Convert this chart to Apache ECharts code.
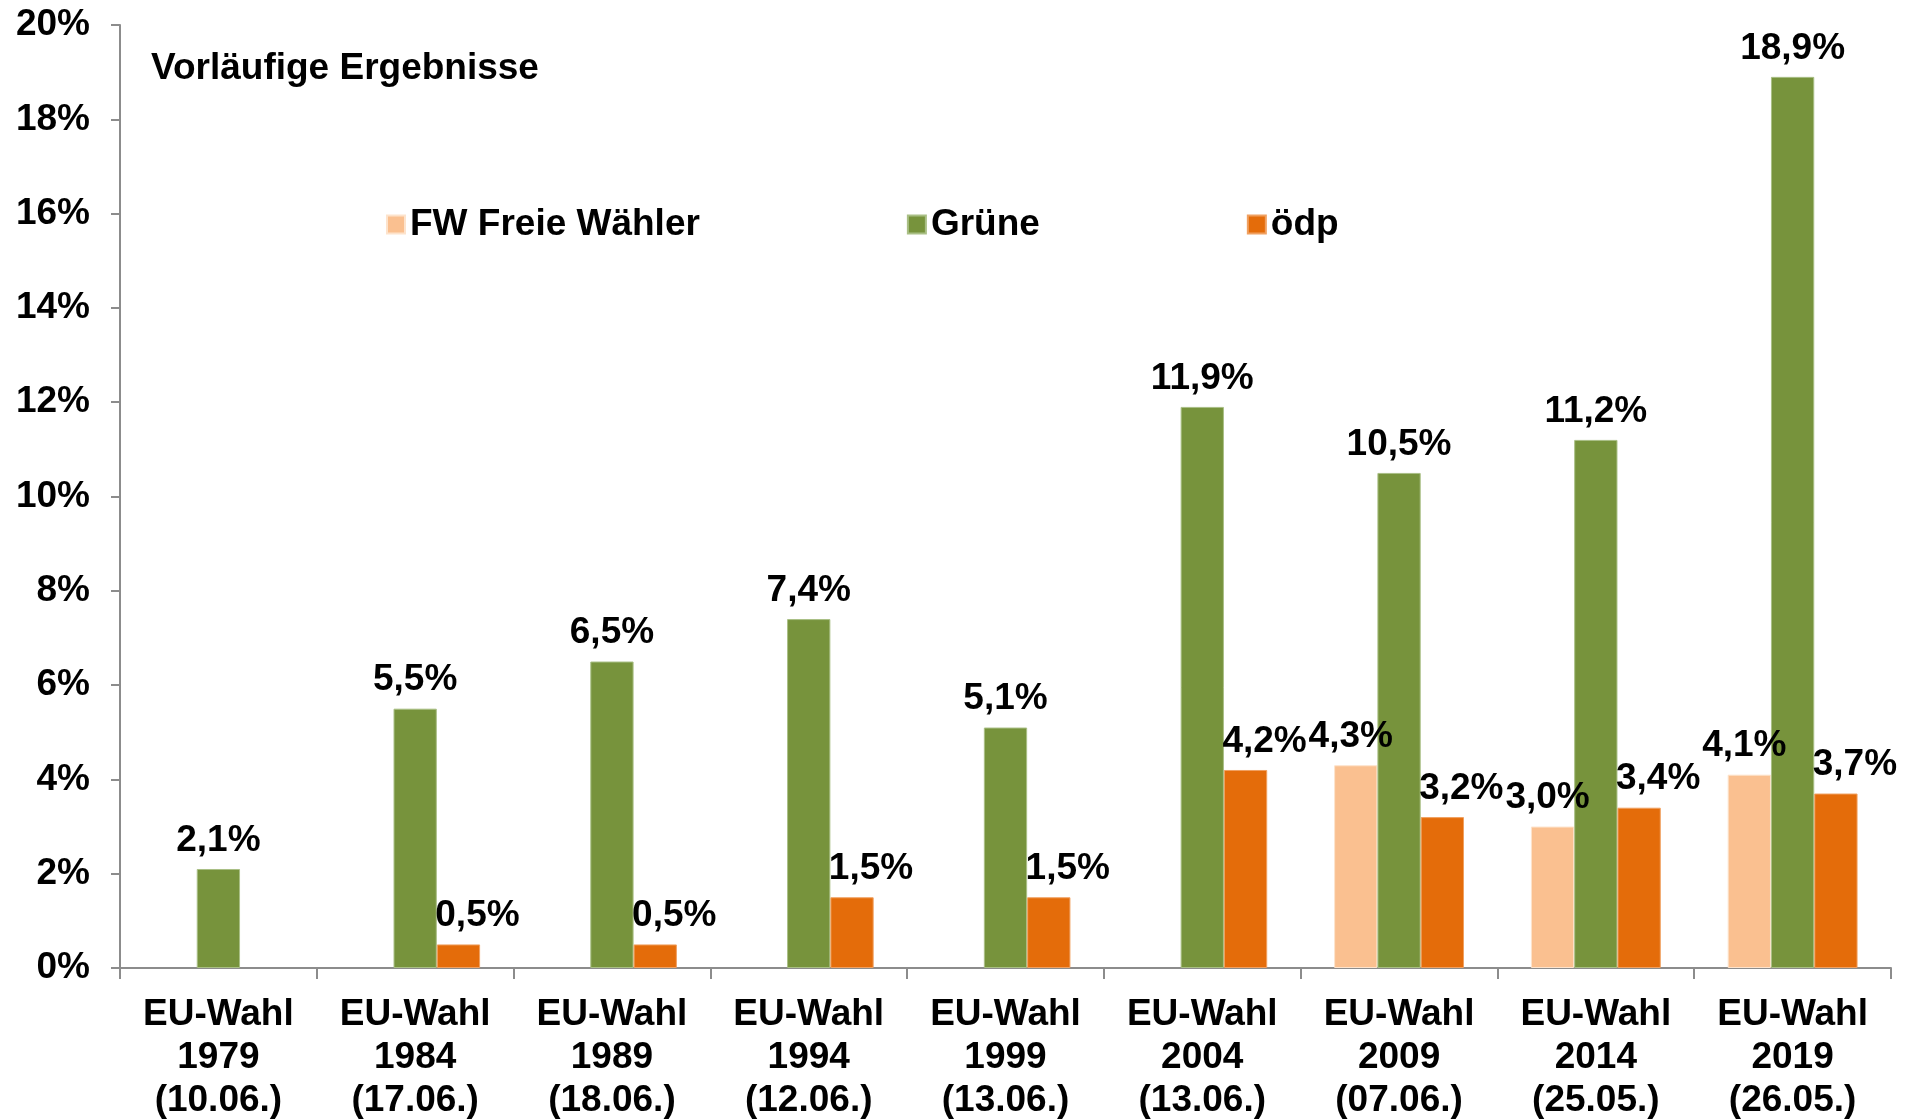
<!DOCTYPE html>
<html>
<head>
<meta charset="utf-8">
<script src="https://cdn.jsdelivr.net/npm/echarts@6/dist/echarts.min.js"></script>
<style>
html,body{margin:0;padding:0;background:#fff;}
#chart{width:1922px;height:1119px;}
</style>
</head>
<body>
<div id="chart"></div>
<script>
const years = ['1979','1984','1989','1994','1999','2004','2009','2014','2019'];
const dates = ['(10.06.)','(17.06.)','(18.06.)','(12.06.)','(13.06.)','(13.06.)','(07.06.)','(25.05.)','(26.05.)'];
const seriesNames = ['FW Freie Wähler','Grüne','ödp'];
const fwValues = [null,null,null,null,null,null,4.3,3.0,4.1];
const grueneValues = [2.1,5.5,6.5,7.4,5.1,11.9,10.5,11.2,18.9];
const oedpValues = [null,0.5,0.5,1.5,1.5,4.2,3.2,3.4,3.7];
const yTicks = [0,2,4,6,8,10,12,14,16,18,20];
const titleText = 'Vorläufige Ergebnisse';

const categories = years.map((y,i)=>'EU-Wahl\n'+y+'\n'+dates[i]);
const FONT = '"Liberation Sans", Arial, sans-serif';
const FS = 37;
const fmt = p => p.value == null ? '' : p.value.toFixed(1).replace('.', ',') + '%';
const labelBase = {show:true, position:'top', distance:10, formatter:fmt,
  fontFamily:FONT, fontSize:FS, fontWeight:'bold', color:'#000'};

const chart = echarts.init(document.getElementById('chart'), null, {renderer:'canvas'});
chart.setOption({
  animation:false,
  backgroundColor:'#fff',
  title:{text:titleText, left:146, top:45,
    textStyle:{fontFamily:FONT, fontSize:FS, fontWeight:'bold', color:'#000'}},
  legend:{left:381, top:201, itemWidth:18, itemHeight:18, itemGap:207, icon:'rect',
    data:seriesNames,
    textStyle:{fontFamily:FONT, fontSize:FS, fontWeight:'bold', color:'#000'}},
  grid:{left:120, right:31, top:25, bottom:151, containLabel:false, outerBoundsMode:'none'},
  xAxis:{type:'category', data:categories,
    axisLine:{lineStyle:{color:'#8c8c8c', width:2}},
    axisTick:{show:true, length:11, lineStyle:{color:'#8c8c8c', width:2}},
    axisLabel:{interval:0, margin:25, fontFamily:FONT, fontSize:FS, fontWeight:'bold', color:'#000', lineHeight:43}},
  yAxis:{type:'value', min:yTicks[0], max:yTicks[yTicks.length-1], interval:yTicks[1]-yTicks[0],
    splitLine:{show:false},
    axisLine:{show:true, lineStyle:{color:'#8c8c8c', width:2}},
    axisTick:{show:true, length:9, lineStyle:{color:'#8c8c8c', width:2}},
    axisLabel:{margin:30, formatter:v=>v+'%', fontFamily:FONT, fontSize:FS, fontWeight:'bold', color:'#000'}},
  series:[
    {name:seriesNames[0], type:'bar', data:fwValues, barGap:'0%', barCategoryGap:'34%',
     itemStyle:{color:'#FAC090', borderColor:'#fde3cc', borderWidth:1},
     label:Object.assign({}, labelBase, {offset:[-5,0]})},
    {name:seriesNames[1], type:'bar', data:grueneValues, barGap:'0%', barCategoryGap:'34%',
     itemStyle:{color:'#77933C', borderColor:'#a9bf85', borderWidth:1},
     label:Object.assign({}, labelBase)},
    {name:seriesNames[2], type:'bar', data:oedpValues, barGap:'0%', barCategoryGap:'34%',
     itemStyle:{color:'#E46C0A', borderColor:'#f0a060', borderWidth:1},
     label:Object.assign({}, labelBase, {offset:[19,0]})}
  ]
});
</script>
</body>
</html>
